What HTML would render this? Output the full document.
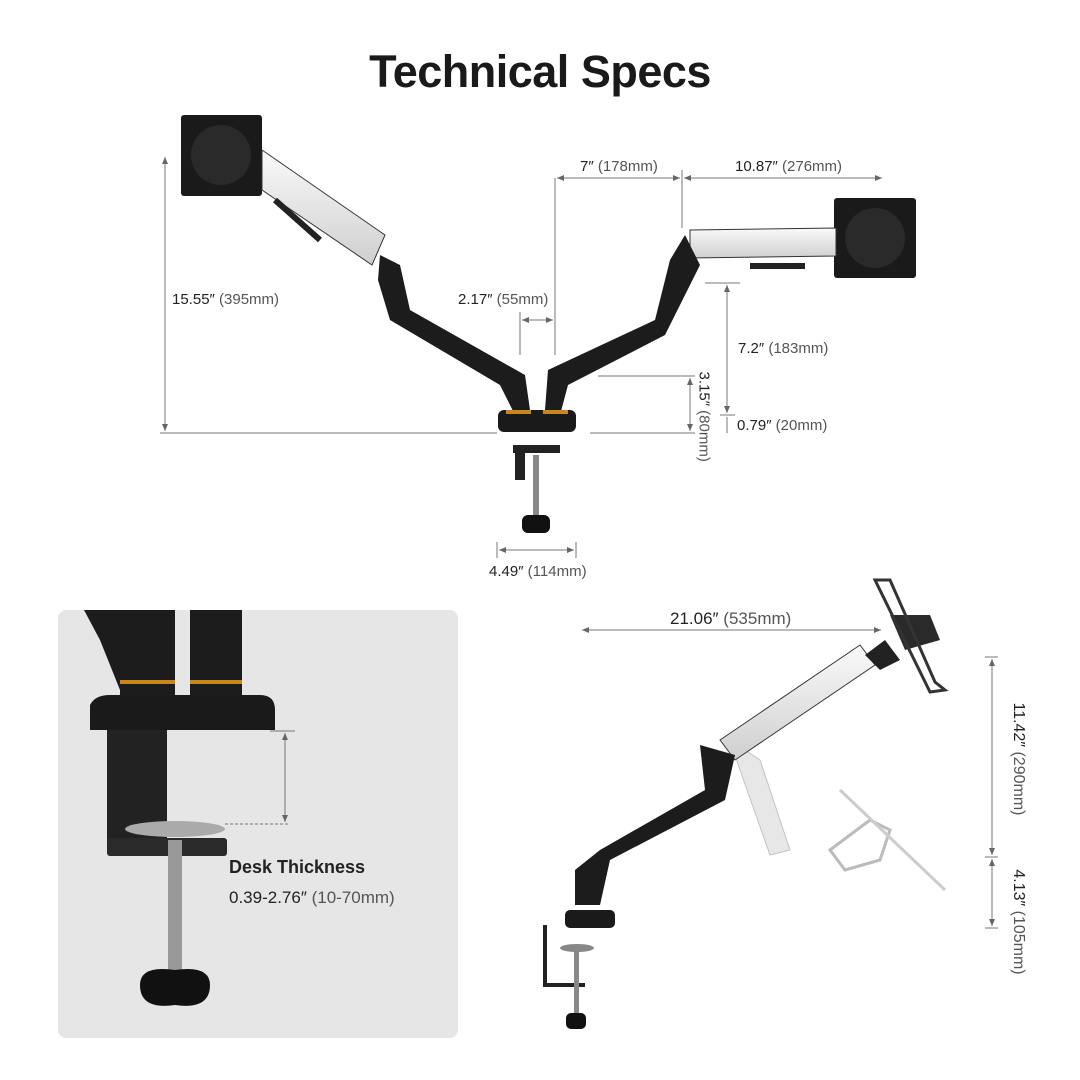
<!DOCTYPE html>
<html><head><meta charset="utf-8"><style>
html,body{margin:0;padding:0;background:#fff;}
body{width:1080px;height:1080px;position:relative;overflow:hidden;font-family:"Liberation Sans",sans-serif;}
.t{position:absolute;font-size:15px;color:#222;white-space:nowrap;}
.t span{color:#555;}
</style></head><body>
<svg width="1080" height="1080" style="position:absolute;left:0;top:0">
<defs>
<marker id="a" markerWidth="8" markerHeight="8" refX="7" refY="4" orient="auto-start-reverse"><path d="M0,1 L7,4 L0,7 z" fill="#666"/></marker>
<linearGradient id="sl" x1="0" y1="0" x2="0" y2="1"><stop offset="0" stop-color="#fafafa"/><stop offset="1" stop-color="#cfcfcf"/></linearGradient>
</defs>
<rect x="58" y="610" width="400" height="428" rx="8" fill="#e6e6e6"/>
<g stroke="#777" stroke-width="1" fill="none">
<line x1="165" y1="157" x2="165" y2="431" marker-start="url(#a)" marker-end="url(#a)"/>
<line x1="160" y1="433" x2="497" y2="433"/><line x1="590" y1="433" x2="695" y2="433"/>
<line x1="555" y1="178" x2="555" y2="355"/><line x1="682" y1="170" x2="682" y2="228"/>
<line x1="557" y1="178" x2="680" y2="178" marker-start="url(#a)" marker-end="url(#a)"/>
<line x1="684" y1="178" x2="882" y2="178" marker-start="url(#a)" marker-end="url(#a)"/>
<line x1="520" y1="312" x2="520" y2="355"/>
<line x1="522" y1="320" x2="553" y2="320" marker-start="url(#a)" marker-end="url(#a)"/>
<line x1="705" y1="283" x2="740" y2="283"/>
<line x1="727" y1="285" x2="727" y2="413" marker-start="url(#a)" marker-end="url(#a)"/>
<line x1="720" y1="415" x2="735" y2="415"/>
<line x1="727" y1="417" x2="727" y2="433"/>
<line x1="598" y1="376" x2="695" y2="376"/>
<line x1="690" y1="378" x2="690" y2="431" marker-start="url(#a)" marker-end="url(#a)"/>
<line x1="497" y1="542" x2="497" y2="558"/><line x1="576" y1="542" x2="576" y2="558"/>
<line x1="499" y1="550" x2="574" y2="550" marker-start="url(#a)" marker-end="url(#a)"/>
<line x1="582" y1="630" x2="881" y2="630" marker-start="url(#a)" marker-end="url(#a)"/>
<line x1="985" y1="657" x2="998" y2="657"/><line x1="985" y1="857" x2="998" y2="857"/><line x1="985" y1="928" x2="998" y2="928"/>
<line x1="992" y1="659" x2="992" y2="855" marker-start="url(#a)" marker-end="url(#a)"/>
<line x1="992" y1="859" x2="992" y2="926" marker-start="url(#a)" marker-end="url(#a)"/>
<line x1="285" y1="733" x2="285" y2="822" marker-start="url(#a)" marker-end="url(#a)"/>
<line x1="270" y1="731" x2="295" y2="731"/>
<line x1="225" y1="824" x2="290" y2="824" stroke-dasharray="3,2"/>
</g>
<!-- top dual arm -->
<g>
<rect x="181" y="115" width="81" height="81" rx="3" fill="#1a1a1a"/>
<circle cx="221" cy="155" r="30" fill="#2a2a2a"/>
<path d="M262,150 L385,235 L372,265 L262,190 z" fill="url(#sl)" stroke="#333"/>
<path d="M275,200 L320,240" stroke="#222" stroke-width="6"/>
<path d="M380,255 L400,265 L410,310 L525,375 L530,410 L515,415 L500,385 L390,320 L378,280 z" fill="#1c1c1c"/>
<rect x="834" y="198" width="82" height="80" rx="3" fill="#1a1a1a"/>
<circle cx="875" cy="238" r="30" fill="#2a2a2a"/>
<path d="M690,230 L836,228 L836,256 L690,258 z" fill="url(#sl)" stroke="#333"/>
<rect x="750" y="263" width="55" height="6" fill="#222"/>
<path d="M685,235 L670,260 L655,320 L548,370 L545,410 L560,415 L568,385 L665,335 L700,265 z" fill="#1c1c1c"/>
<rect x="498" y="410" width="78" height="22" rx="6" fill="#1a1a1a"/>
<rect x="506" y="410" width="25" height="4" fill="#c8861c"/><rect x="543" y="410" width="25" height="4" fill="#c8861c"/>
<rect x="513" y="445" width="47" height="8" fill="#222"/>
<rect x="515" y="445" width="10" height="35" fill="#222"/>
<rect x="533" y="455" width="6" height="63" fill="#888"/>
<rect x="522" y="515" width="28" height="18" rx="6" fill="#111"/>
</g>
<!-- panel clamp -->
<g>
<path d="M84,610 L175,610 L175,690 L120,690 L100,640 z" fill="#1c1c1c"/>
<rect x="120" y="610" width="55" height="90" fill="#1c1c1c"/>
<rect x="190" y="610" width="52" height="90" fill="#1c1c1c"/>
<rect x="120" y="680" width="55" height="4" fill="#c8861c"/><rect x="190" y="680" width="52" height="4" fill="#c8861c"/>
<path d="M90,705 Q95,695 110,695 L260,695 Q275,695 275,710 L275,730 L90,730 z" fill="#1a1a1a"/>
<rect x="107" y="730" width="60" height="120" fill="#222"/>
<rect x="107" y="838" width="120" height="18" rx="3" fill="#2a2a2a"/>
<ellipse cx="175" cy="829" rx="50" ry="8" fill="#aaa"/>
<rect x="168" y="840" width="14" height="140" fill="#999"/>
<path d="M140,985 Q140,965 175,970 Q210,965 210,985 Q210,1010 175,1005 Q140,1010 140,985 z" fill="#111"/>
</g>
<!-- bottom right single arm -->
<g>
<path d="M730,740 L760,760 L790,850 L770,855 L740,770 z" fill="#ddd" stroke="#aaa" opacity="0.7"/>
<path d="M720,740 L860,645 L875,665 L735,760 z" fill="url(#sl)" stroke="#333"/>
<path d="M700,745 L735,755 L725,800 L610,860 L600,905 L575,905 L575,870 L600,850 L705,790 z" fill="#1c1c1c"/>
<rect x="565" y="910" width="50" height="18" rx="5" fill="#1a1a1a"/>
<path d="M545,925 L545,985 L585,985" stroke="#222" stroke-width="4" fill="none"/>
<ellipse cx="577" cy="948" rx="17" ry="4" fill="#888"/>
<rect x="574" y="950" width="5" height="65" fill="#888"/>
<rect x="566" y="1013" width="20" height="16" rx="5" fill="#111"/>
<path d="M865,655 L885,640 L900,660 L880,670 z" fill="#222"/>
<path d="M890,615 L930,615 L940,640 L905,650 z" fill="#2a2a2a"/>
<path d="M875,580 L890,580 L935,682 L945,690 L930,692 z" fill="none" stroke="#333" stroke-width="3"/>
<path d="M830,850 L870,820 L890,830 L880,860 L845,870 z" fill="none" stroke="#bbb" stroke-width="3"/>
<path d="M840,790 L945,890" stroke="#ccc" stroke-width="3"/>
</g>
</svg>
<div style="position:absolute;left:0;width:1080px;top:46px;text-align:center;font-size:45px;font-weight:bold;color:#1a1a1a;letter-spacing:-0.5px">Technical Specs</div>
<div class="t" style="left:172px;top:291px">15.55″ <span>(395mm)</span></div>
<div class="t" style="left:580px;top:158px">7″ <span>(178mm)</span></div>
<div class="t" style="left:735px;top:158px">10.87″ <span>(276mm)</span></div>
<div class="t" style="left:458px;top:291px">2.17″ <span>(55mm)</span></div>
<div class="t" style="left:738px;top:340px">7.2″ <span>(183mm)</span></div>
<div class="t" style="left:737px;top:417px">0.79″ <span>(20mm)</span></div>
<div class="t" style="left:662px;top:405px;transform:rotate(90deg);transform-origin:center;width:84px;text-align:center">3.15″ <span>(80mm)</span></div>
<div class="t" style="left:489px;top:563px">4.49″ <span>(114mm)</span></div>
<div class="t" style="left:670px;top:609px;font-size:17px">21.06″ <span>(535mm)</span></div>
<div class="t" style="left:958px;top:750px;transform:rotate(90deg);width:120px;text-align:center;font-size:16px">11.42″ <span>(290mm)</span></div>
<div class="t" style="left:958px;top:913px;transform:rotate(90deg);width:120px;text-align:center;font-size:16px">4.13″ <span>(105mm)</span></div>
<div class="t" style="left:229px;top:857px;font-size:18px;font-weight:bold">Desk Thickness</div>
<div class="t" style="left:229px;top:888px;font-size:17px">0.39-2.76″ <span>(10-70mm)</span></div>
</body></html>
